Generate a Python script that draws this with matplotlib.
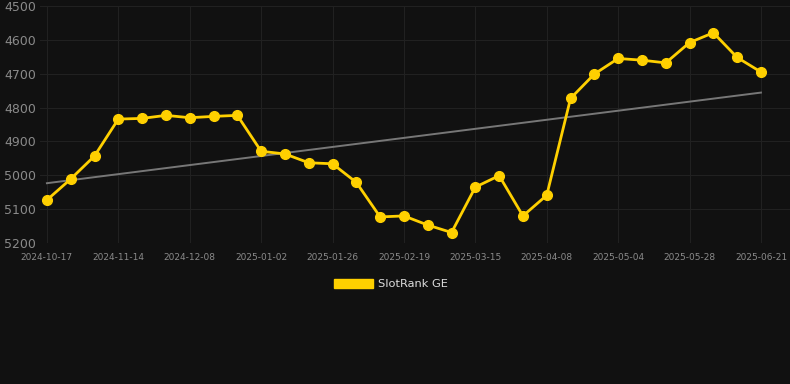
import numpy as np
import matplotlib
matplotlib.use("Agg")
import matplotlib.pyplot as plt
from matplotlib.patches import Patch

# labelled dates (every third point carries a tick label)
tick_labels = ["2024-10-17", "2024-11-14", "2024-12-08", "2025-01-02", "2025-01-26",
               "2025-02-19", "2025-03-15", "2025-04-08", "2025-05-04", "2025-05-28",
               "2025-06-21"]

# SlotRank GE rank values
rank = [5073, 5011, 4943, 4834, 4832, 4823, 4830, 4826, 4823, 4929,
        4937, 4963, 4966, 5021, 5123, 5120, 5147, 5169, 5035, 5001,
        5120, 5059, 4773, 4701, 4655, 4660, 4668, 4608, 4579, 4652,
        4695]

bg = "#111111"
gold = "#ffd000"
x = np.arange(len(rank))

fig = plt.figure(figsize=(7.9, 3.84), dpi=100, facecolor=bg)
ax = fig.add_axes([40 / 790, 141 / 384, 750 / 790, 237 / 384], facecolor=bg)

# trend line (linear fit)
slope, icpt = np.polyfit(x, rank, 1)
ax.plot(x, slope * x + icpt, color="#777777", lw=1.4, zorder=2)

ax.plot(x, rank, color=gold, lw=2.0, marker="o", markersize=7, zorder=3,
        clip_on=False)

ax.set_ylim(5200, 4500)
ax.set_yticks(range(4500, 5201, 100))
ax.set_xlim(-0.29, 31.22)
ax.set_xticks(x[::3])
ax.set_xticklabels(tick_labels)

ax.grid(True, color="#212121", lw=0.8)
for s in ax.spines.values():
    s.set_visible(False)
ax.tick_params(axis="y", colors="#8a8a8a", labelsize=9, length=0, pad=3)
ax.tick_params(axis="x", colors="#8a8a8a", labelsize=6.5, length=0, pad=7)

fig.legend(handles=[Patch(color=gold, label="SlotRank GE")], loc="center",
           bbox_to_anchor=(0.495, 0.26), frameon=False, fontsize=8.2,
           labelcolor="#dddddd", handlelength=3.4, handleheight=0.9,
           handletextpad=0.4)

fig.savefig("out.png", dpi=100, facecolor=bg)
